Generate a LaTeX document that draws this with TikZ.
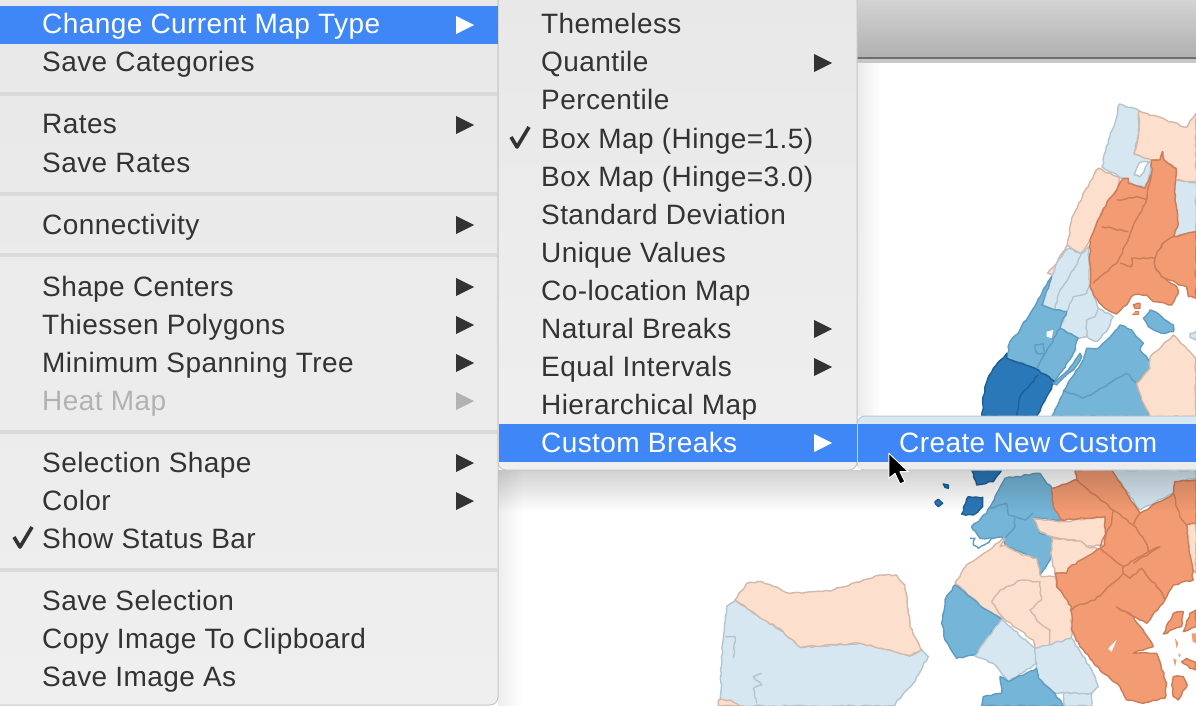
\documentclass[tikz,border=0pt]{standalone}
\usepackage{fontspec}
\setmainfont[LetterSpace=1.5]{Liberation Sans}
\usetikzlibrary{fadings,decorations.pathmorphing}
\definecolor{menugray}{HTML}{ECECEC}
\definecolor{menulow}{HTML}{EFEFEF}
\definecolor{menutop}{HTML}{E8E8E8}
\definecolor{menuedge}{HTML}{C6C6C6}
\definecolor{sepgray}{HTML}{DADADA}
\definecolor{hilite}{HTML}{3F87F6}
\definecolor{inktext}{HTML}{333333}
\definecolor{inkoff}{HTML}{B2B2B2}
\definecolor{lightblue}{HTML}{D6E7F1}
\definecolor{lightblueedge}{HTML}{B3C5CF}
\definecolor{peach}{HTML}{FDDFCD}
\definecolor{peachedge}{HTML}{D3B8AA}
\definecolor{orangefill}{HTML}{F39B72}
\definecolor{orangeedge}{HTML}{CB7C58}
\definecolor{midblue}{HTML}{75B5D8}
\definecolor{midblueedge}{HTML}{5F9CBE}
\definecolor{darkblue}{HTML}{2A78B8}
\definecolor{darkblueedge}{HTML}{1D5F96}
\begin{document}
\begin{tikzpicture}
    [x=1pt,y=-1pt,line join=round,
    item/.style={anchor=base west, inner sep=0pt, text=inktext, font=\fontsize{28}{30}\selectfont},
    itemoff/.style={item, text=inkoff},
    itemon/.style={item, text=white},
    menubox/.style={top color=menutop, bottom color=menulow, draw=menuedge, line width=1pt},
    sepline/.style={sepgray, line width=4pt},
    hibar/.style={fill=hilite},
    rough/.style={decorate, decoration={random steps, segment length=4pt, amplitude=0.9pt}, line width=1.4pt},
    lb/.style={fill=lightblue, draw=lightblueedge, rough},
    pe/.style={fill=peach, draw=peachedge, rough},
    og/.style={fill=orangefill, draw=orangeedge, rough},
    mb/.style={fill=midblue, draw=midblueedge, rough},
    db/.style={fill=darkblue, draw=darkblueedge, rough},
    ogline/.style={orangeedge, rough},
    lbline/.style={lightblueedge, rough},
    peline/.style={peachedge, rough},
    mbline/.style={midblueedge, rough},
    dbline/.style={darkblueedge, rough}]
  \useasboundingbox (0,0) rectangle (1196,706);
  \fill[white] (0,0) rectangle (1196,706);
  \shade[top color=black!17, bottom color=black!31] (857,0) rectangle (1196,57);
  \fill[black!57] (857,57) rectangle (1196,59);
  \fill[black!22] (857,59) rectangle (1196,63);

  \begin{scope}[shift={(860,0)},x=0.3333pt,y=-0.3333pt]
    \draw[lb] (778,312) -- (838,332) -- (836,400) -- (822,462) -- (874,478) -- (870,520) -- (855,565) -- (805,545) -- (787,535) -- (726,500) -- (745,420) -- (765,370) -- cycle;
    \draw[lbline, fill=white] (838,488) -- (868,485) -- (840,530) -- (822,525) -- cycle;
    \draw[lb] (945,540) -- (1008,548) -- (1008,695) -- (940,710) -- (955,670) -- (945,600) -- cycle;
    \draw[pe] (838,332) -- (980,382) -- (1008,340) -- (1008,548) -- (945,540) -- (948,505) -- (912,480) -- (908,455) -- (900,480) -- (875,480) -- (822,462) -- (836,400) -- cycle;
    \draw[pe] (715,505) -- (780,535) -- (770,570) -- (745,600) -- (710,670) -- (690,720) -- (662,760) -- (622,735) -- (635,655) -- (690,545) -- cycle;
    \draw[pe] (622,735) -- (598,800) -- (585,830) -- (563,820) -- (590,790) -- cycle;
    \draw[lb] (625,745) -- (665,760) -- (685,740) -- (690,860) -- (715,925) -- (760,950) -- (745,985) -- (710,1025) -- (680,1010) -- (655,1015) -- (600,985) -- (620,935) -- (585,930) -- (545,915) -- (575,830) -- (590,790) -- cycle;
    \draw[lbline] (665,760) -- (640,810) -- (600,870) -- (585,930);
    \draw[lbline] (690,850) -- (680,880) -- (640,890) -- (620,935);
    \draw[lbline] (715,925) -- (705,950) -- (680,960) -- (680,1010);
    \draw[og] (790,535) -- (805,535) -- (805,550) -- (855,565) -- (875,520) -- (875,480) -- (900,480) -- (908,455) -- (912,480) -- (948,505) -- (945,600) -- (955,670) -- (940,710) -- (905,735) -- (885,775) -- (885,800) -- (905,830) -- (950,860) -- (955,880) -- (935,915) -- (880,905) -- (860,885) -- (820,885) -- (800,915) -- (770,942) -- (735,925) -- (700,885) -- (690,860) -- (690,720) -- (710,670) -- (745,600) -- (770,570) -- cycle;
    \draw[og] (885,775) -- (905,735) -- (940,710) -- (1008,695) -- (1008,895) -- (985,890) -- (980,860) -- (950,850) -- (905,830) -- (885,800) -- cycle;
    \draw[ogline] (770,600) -- (830,590) -- (860,600);
    \draw[ogline] (875,520) -- (860,600) -- (815,690) -- (780,770) -- (770,790) -- (700,850);
    \draw[ogline] (725,680) -- (805,695);
    \draw[ogline] (780,790) -- (815,800) -- (815,775) -- (885,775);
    \draw[og] (820,915) -- (840,910) -- (840,925) -- (825,925) -- cycle;
    \draw[og] (825,935) -- (835,935) -- (835,943) -- (825,943) -- cycle;
    \draw[mb] (575,830) -- (545,915) -- (585,930) -- (620,935) -- (600,985) -- (655,1015) -- (640,1060) -- (585,1145) -- (525,1105) -- (440,1075) -- (450,1025) -- (480,990) -- cycle;
    \draw[mbline] (600,985) -- (530,1105);
    \draw[mbline] (525,1035) -- (550,1030) -- (555,1060) -- (530,1060) -- cycle;
    \fill[white] (560,995) -- (580,990) -- (575,1015) -- (560,1010) -- cycle;
    \draw[db] (440,1060) -- (440,1075) -- (525,1105) -- (585,1145) -- (560,1190) -- (530,1250) -- (365,1250) -- (375,1160) -- (400,1105) -- cycle;
    \draw[dbline] (535,1125) -- (480,1190) -- (470,1250);
    \draw[mb] (780,975) -- (815,990) -- (850,1030) -- (840,1050) -- (870,1085) -- (870,1105) -- (830,1150) -- (845,1200) -- (870,1250) -- (575,1250) -- (610,1175) -- (670,1080) -- (680,1045) -- (715,1045) -- cycle;
    \draw[mbline] (610,1170) -- (670,1195) -- (800,1120) -- (830,1150);
    \draw[mb] (660,1060) -- (625,1110) -- (580,1150) -- (590,1155) -- (640,1110) -- (665,1070) -- cycle;
    \draw[mb] (870,930) -- (885,935) -- (940,975) -- (940,995) -- (905,1000) -- (865,980) -- (850,955) -- cycle;
    \draw[pe] (940,1005) -- (1008,1075) -- (1008,1250) -- (870,1250) -- (845,1200) -- (830,1150) -- (870,1105) -- (870,1070) -- (895,1050) -- cycle;
    \draw[lb] (990,1000) -- (1008,995) -- (1008,1020) -- (990,1012) -- cycle;
  \end{scope}

  \begin{scope}[shift={(700,410)},x=0.3333pt,y=-0.3333pt]
    \draw[lb] (1235,180) -- (1488,180) -- (1488,205) -- (1425,215) -- (1420,250) -- (1320,300) -- cycle;
    \draw[db] (815,180) -- (905,180) -- (880,215) -- (830,225) -- cycle;
    \draw[db] (730,222) -- (745,225) -- (745,235) -- (735,232) -- cycle;
    \draw[db] (705,275) -- (715,268) -- (728,280) -- (715,290) -- cycle;
    \draw[db] (805,260) -- (848,262) -- (848,290) -- (820,315) -- (785,312) -- cycle;
    \draw[mb] (915,205) -- (1020,190) -- (1055,235) -- (1065,295) -- (1085,330) -- (1000,325) -- (1020,370) -- (1055,380) -- (1055,440) -- (1020,495) -- (1015,460) -- (970,430) -- (915,405) -- (905,380) -- (880,385) -- (840,385) -- (815,350) -- (860,310) -- (885,260) -- cycle;
    \draw[mbline] (870,295) -- (920,280) -- (925,315) -- (975,330) -- (1000,310);
    \draw[mbline] (945,325) -- (945,350) -- (915,385);
    \draw[mbline] (810,385) -- (825,385) -- (820,405) -- (835,415) -- (880,385);
    \draw[pe] (1000,325) -- (1085,335) -- (1215,320) -- (1215,405) -- (1160,410) -- (1145,395) -- (1055,380) -- (1020,365) -- cycle;
    \draw[pe] (1055,385) -- (1145,395) -- (1160,410) -- (1190,415) -- (1195,440) -- (1150,470) -- (1105,475) -- (1100,490) -- (1065,490) -- (1055,440) -- cycle;
    \draw[pe] (915,385) -- (900,410) -- (915,405) -- (965,435) -- (1010,445) -- (1020,495) -- (1025,500) -- (1065,500) -- (1070,530) -- (1115,560) -- (1115,680) -- (1090,705) -- (1005,715) -- (1000,690) -- (910,625) -- (860,600) -- (765,520) -- (800,465) -- cycle;
    \draw[peline] (910,625) -- (875,575) -- (900,540) -- (965,510) -- (1020,515) -- (1025,570) -- (990,600) -- (1020,640) -- (1050,660) -- (1050,705);
    \draw[mb] (765,525) -- (860,600) -- (905,628) -- (825,735) -- (770,745) -- (735,690) -- (725,640) -- (735,570) -- cycle;
    \draw[lb] (905,628) -- (1005,715) -- (1010,760) -- (925,815) -- (880,760) -- (825,738) -- cycle;
    \draw[lb] (1005,715) -- (1115,685) -- (1175,780) -- (1195,830) -- (1175,850) -- (1065,850) -- (1015,805) -- (1010,760) -- cycle;
    \draw[mb] (925,815) -- (1010,775) -- (1015,805) -- (1065,850) -- (1090,888) -- (845,888) -- (850,860) -- (905,850) -- (900,800) -- cycle;
    \draw[lb] (1090,850) -- (1175,850) -- (1175,888) -- (1095,888) -- cycle;
    \draw[pe] (1460,340) -- (1488,340) -- (1488,490) -- (1480,480) -- (1460,440) -- cycle;
    \draw[og] (1125,180) -- (1235,180) -- (1320,310) -- (1420,250) -- (1425,215) -- (1488,210) -- (1488,340) -- (1460,345) -- (1480,510) -- (1420,525) -- (1395,570) -- (1340,640) -- (1250,590) -- (1300,620) -- (1360,710) -- (1300,730) -- (1370,730) -- (1400,820) -- (1395,865) -- (1330,880) -- (1280,870) -- (1260,830) -- (1210,790) -- (1140,710) -- (1115,660) -- (1115,590) -- (1070,530) -- (1065,490) -- (1100,490) -- (1105,475) -- (1190,420) -- (1215,405) -- (1215,320) -- (1085,330) -- (1060,290) -- (1055,235) -- (1130,210) -- cycle;
    \fill[white] (1225,715) -- (1250,690) -- (1235,725) -- cycle;
    \draw[ogline] (1130,210) -- (1240,300) -- (1300,345);
    \draw[ogline] (1240,300) -- (1235,340) -- (1200,410);
    \draw[ogline] (1320,310) -- (1300,345) -- (1340,400) -- (1345,425) -- (1270,470) -- (1200,415);
    \draw[ogline] (1270,470) -- (1270,490) -- (1185,570) -- (1125,590) -- (1115,600);
    \draw[ogline] (1270,490) -- (1290,505) -- (1325,475) -- (1380,540) -- (1395,570);
    \draw[ogline] (1345,425) -- (1380,410) -- (1300,460);
    \draw[ogline] (1420,250) -- (1440,320) -- (1460,345);
    \draw[og] (1420,610) -- (1450,605) -- (1445,650) -- (1390,672) -- cycle;
    \draw[og] (1470,610) -- (1488,600) -- (1488,650) -- (1450,665) -- cycle;
    \draw[og] (1460,745) -- (1488,760) -- (1488,780) -- (1470,775) -- (1445,755) -- cycle;
    \draw[og] (1420,800) -- (1450,800) -- (1462,825) -- (1435,870) -- (1420,860) -- (1415,825) -- cycle;
    \fill[orangefill] (1425,685) -- (1435,700) -- (1430,715) -- cycle;
    \fill[orangefill] (1435,730) -- (1443,735) -- (1438,742) -- cycle;
    \fill[orangefill] (1420,745) -- (1430,750) -- (1425,770) -- cycle;
    \fill[orangefill] (1475,670) -- (1488,670) -- (1488,700) -- (1478,695) -- cycle;
    \draw[lb] (105,570) -- (170,615) -- (250,665) -- (300,712) -- (480,700) -- (570,720) -- (630,738) -- (665,720) -- (685,740) -- (640,820) -- (580,888) -- (60,888) -- (65,750) -- (70,690) -- (80,590) -- cycle;
    \draw[lbline] (75,680) -- (105,680) -- (100,745);
    \draw[lbline] (185,790) -- (160,800) -- (185,825) -- (160,835) -- (170,880);
    \draw[pe] (105,570) -- (140,520) -- (185,515) -- (270,550) -- (400,540) -- (540,495) -- (590,495) -- (615,525) -- (630,650) -- (665,720) -- (630,738) -- (570,720) -- (480,700) -- (300,712) -- (250,665) -- (170,615) -- cycle;
    \draw[pe] (55,870) -- (90,870) -- (120,888) -- (55,888) -- cycle;
  \end{scope}

  \fill[black, fill opacity=.08, path fading=east] (857,63) rectangle (880,416);
  \fill[black, fill opacity=.18, path fading=south] (498,470) rectangle (1196,512);
  \fill[black, fill opacity=.07, path fading=east] (498,470) rectangle (522,706);

  \draw[menubox, rounded corners=8pt] (-10,-10) rectangle (498,705);
  \draw[menubox, rounded corners=8pt] (498,-10) rectangle (857,470);
  \draw[fill=lightblue!92!menugray, draw=menuedge, line width=1pt, rounded corners=8pt] (857,416) rectangle (1206,470);
  \fill[menugray] (858,462) rectangle (1196,469);

  \fill[hibar] (0,6) rectangle (498,44);
  \fill[hibar] (499,424) rectangle (857,462);
  \fill[hibar] (858,424) rectangle (1196,462);

  \foreach \y in {94,194,255,432,570}
    \draw[sepline] (0,\y) -- (497,\y);

  \node[itemon] (changetype) at (42,34) {Change Current Map Type};
  \node[item] (savecats) at (42,72) {Save Categories};
  \node[item] (rates) at (42,134) {Rates};
  \node[item] (saverates) at (42,172) {Save Rates};
  \node[item] (connect) at (42,234) {Connectivity};
  \node[item] (centers) at (42,296) {Shape Centers};
  \node[item] (thiessen) at (42,334) {Thiessen Polygons};
  \node[item] (mst) at (42,372) {Minimum Spanning Tree};
  \node[itemoff] (heat) at (42,410) {Heat Map};
  \node[item] (selshape) at (42,472) {Selection Shape};
  \node[item] (color) at (42,510) {Color};
  \node[item] (status) at (42,548) {Show Status Bar};
  \node[item] (savesel) at (42,610) {Save Selection};
  \node[item] (copyimg) at (42,648) {Copy Image To Clipboard};
  \node[item] (saveimg) at (42,686) {Save Image As};

  \node[item] (themeless) at (541,34) {Themeless};
  \node[item] (quantile) at (541,72) {Quantile};
  \node[item] (percentile) at (541,110) {Percentile};
  \node[item] (boxa) at (541,148) {Box Map (Hinge=1.5)};
  \node[item] (boxb) at (541,186) {Box Map (Hinge=3.0)};
  \node[item] (stddev) at (541,224) {Standard Deviation};
  \node[item] (unique) at (541,262) {Unique Values};
  \node[item] (coloc) at (541,300) {Co-location Map};
  \node[item] (natural) at (541,338) {Natural Breaks};
  \node[item] (equal) at (541,376) {Equal Intervals};
  \node[item] (hier) at (541,414) {Hierarchical Map};
  \node[itemon] (custom) at (541,452) {Custom Breaks};
  \node[itemon] (newcustom) at (899,452) {Create New Custom};

  \foreach \x/\y in {456/125,456/225,456/287,456/325,456/363,456/463,456/501,814/63,814/329,814/367}
    \fill[inktext] (\x,\y-9) -- (\x+18,\y) -- (\x,\y+9) -- cycle;
  \foreach \x/\y in {456/25,814/443}
    \fill[white] (\x,\y-9) -- (\x+18,\y) -- (\x,\y+9) -- cycle;
  \fill[inkoff] (456,392) -- (474,401) -- (456,410) -- cycle;

  \draw[inktext, line width=3.6pt] (511,137) -- (517,147) -- (529,127);
  \draw[inktext, line width=3.6pt] (14,537) -- (20,547) -- (32,527);

  \begin{scope}[shift={(700,410)},x=0.3333pt,y=-0.3333pt]
    \draw[fill=black, draw=white, line width=1pt] (567,130) -- (567,205) -- (585,190) -- (600,222) -- (615,215) -- (600,185) -- (625,185) -- cycle;
  \end{scope}
\end{tikzpicture}
\end{document}
